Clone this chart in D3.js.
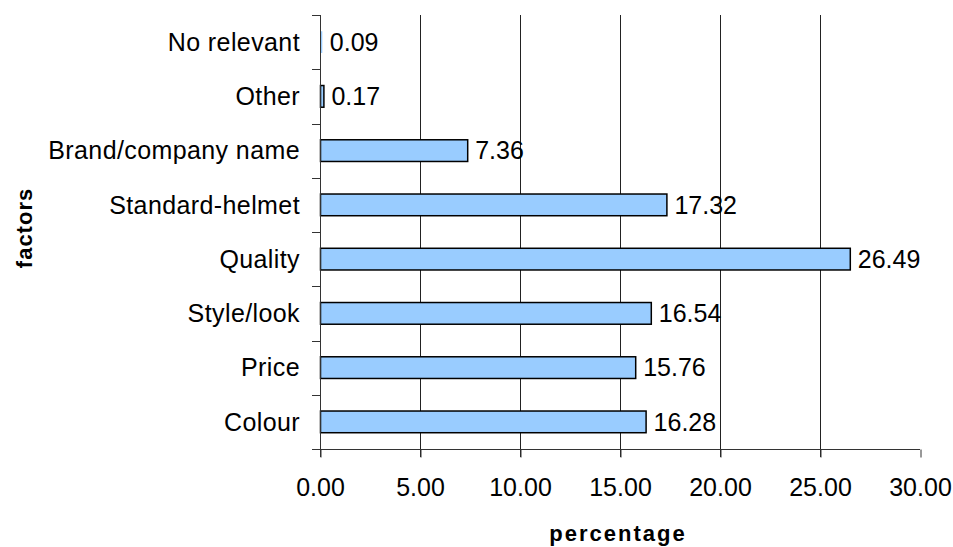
<!DOCTYPE html>
<html>
<head>
<meta charset="utf-8">
<script src="https://cdn.jsdelivr.net/npm/d3@7"></script>
<style>
  html, body { margin: 0; padding: 0; background: #fff; }
  svg { display: block; font-family: "Liberation Sans", Arial, sans-serif; }
</style>
</head>
<body>
<svg id="chart" width="953" height="547"></svg>
<script>
const categories = ["No relevant", "Other", "Brand/company name", "Standard-helmet", "Quality", "Style/look", "Price", "Colour"];
const values = [0.09, 0.17, 7.36, 17.32, 26.49, 16.54, 15.76, 16.28];
const valueLabels = ["0.09", "0.17", "7.36", "17.32", "26.49", "16.54", "15.76", "16.28"];
const xTicks = [0, 5, 10, 15, 20, 25, 30];
const xTitle = "percentage";
const yTitle = "factors";

(function () {
const svg = d3.select("#chart");
const pLeft = 320, pRight = 920, pTop = 15, pBottom = 449;

const x = d3.scaleLinear().domain([0, 30]).range([pLeft, pRight]);
const y = d3.scaleBand().domain(categories).range([pTop, pBottom]).padding(0);
const barH = y.bandwidth() * 0.4;

// gridlines (5..25 full height, extending below axis as ticks)
svg.append("g").selectAll("line").data(xTicks.filter(d => d > 0 && d < 30)).join("line")
  .attr("x1", d => Math.round(x(d)) + 0.5).attr("x2", d => Math.round(x(d)) + 0.5)
  .attr("y1", pTop).attr("y2", pBottom + 8)
  .attr("stroke", "#222").attr("stroke-width", 1);

// bottom axis
const xAxis = d3.axisBottom(x).tickValues(xTicks).tickFormat(d3.format(".2f")).tickSize(8).tickPadding(21);
const gx = svg.append("g").attr("transform", `translate(0,${pBottom + 0.5})`).call(xAxis);
gx.select(".domain").attr("stroke", "#333").attr("d", `M${pLeft},0H${pRight}`);
gx.selectAll(".tick line").attr("stroke", "#333").attr("transform", "translate(0.5,0)");
gx.selectAll(".tick text").attr("font-size", 25).attr("fill", "#000")
  .attr("font-family", "Liberation Sans, Arial, sans-serif").attr("dy", "0.71em");

// bars
svg.append("g").selectAll("rect").data(categories).join("rect")
  .attr("x", x(0) + 0.5)
  .attr("y", d => y(d) + (y.bandwidth() - barH) / 2)
  .attr("width", (d, i) => Math.max(0, x(values[i]) - x(0)))
  .attr("height", barH)
  .attr("fill", "#99CCFF")
  .attr("stroke", (d, i) => (x(values[i]) - x(0)) < 2.5 ? "none" : "#000")
  .attr("stroke-width", 1.5);

// left axis line and band-boundary ticks
svg.append("line").attr("x1", pLeft + 0.5).attr("x2", pLeft + 0.5).attr("y1", pTop).attr("y2", pBottom + 8)
  .attr("stroke", "#333");
const boundaries = categories.map(c => y(c)).concat([pBottom]);
svg.append("g").selectAll("line").data(boundaries).join("line")
  .attr("x1", pLeft - 8).attr("x2", pLeft)
  .attr("y1", d => Math.round(d) + 0.5).attr("y2", d => Math.round(d) + 0.5)
  .attr("stroke", "#333");

// category labels
svg.append("g").selectAll("text").data(categories).join("text")
  .attr("x", 300).attr("y", d => y(d) + y.bandwidth() / 2)
  .attr("dy", "0.35em").attr("text-anchor", "end")
  .attr("font-size", 25).attr("letter-spacing", 0.4).attr("fill", "#000")
  .text(d => d);

// value labels
svg.append("g").selectAll("text").data(categories).join("text")
  .attr("x", (d, i) => x(values[i]) + 8)
  .attr("y", d => y(d) + y.bandwidth() / 2)
  .attr("dy", "0.35em")
  .attr("font-size", 25).attr("fill", "#000")
  .text((d, i) => valueLabels[i]);

// axis titles
svg.append("text").attr("x", 618).attr("y", 541).attr("text-anchor", "middle")
  .attr("font-size", 22).attr("font-weight", "bold").attr("letter-spacing", 2)
  .text(xTitle);
svg.append("text").attr("transform", "translate(32,228) rotate(-90)").attr("text-anchor", "middle")
  .attr("font-size", 22).attr("font-weight", "bold").attr("letter-spacing", 1)
  .text(yTitle);
})();
</script>
</body>
</html>
